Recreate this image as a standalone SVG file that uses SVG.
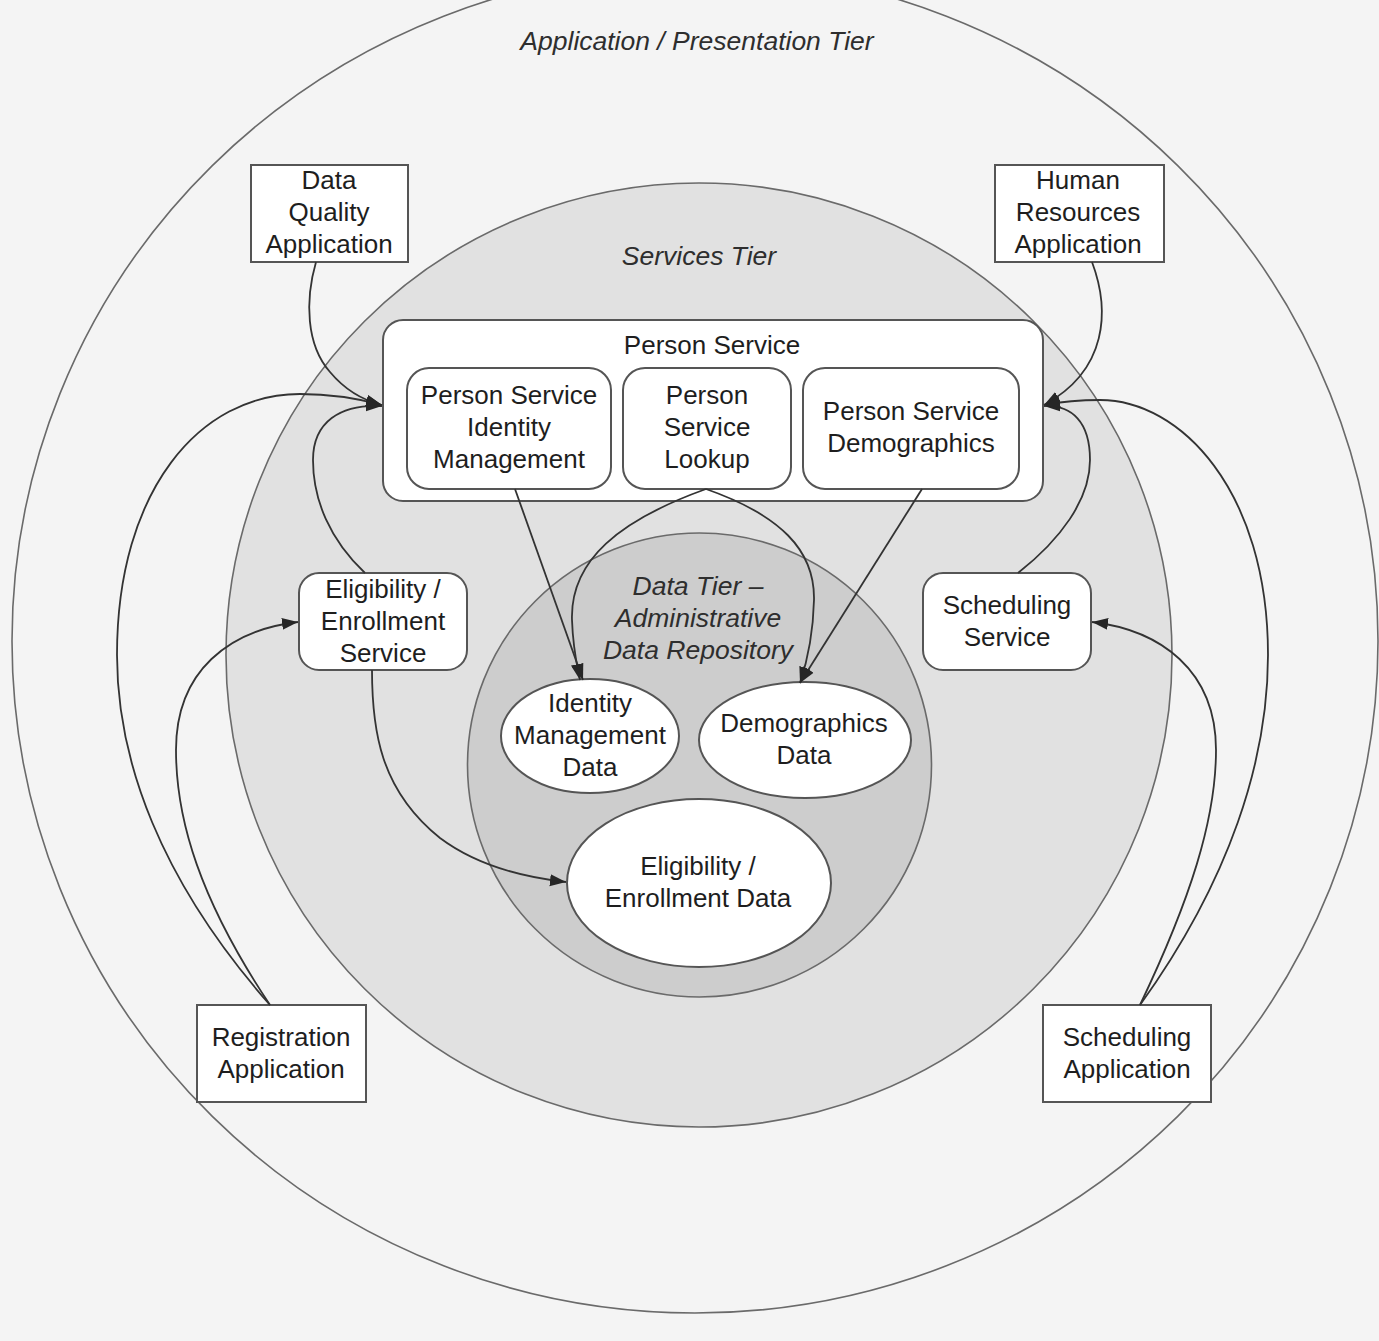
<svg xmlns="http://www.w3.org/2000/svg" width="1379" height="1341" viewBox="0 0 1379 1341">
  <defs>
    <marker id="arrow" markerUnits="userSpaceOnUse" markerWidth="17" markerHeight="14" refX="16" refY="7" orient="auto">
      <path d="M0,1 L16,7 L0,13 z" fill="#262626"/>
    </marker>
    <style>
      .tier { stroke: #6a6a6a; stroke-width: 1.6; }
      .box { fill: #ffffff; stroke: #555555; stroke-width: 2; }
      .lbl { font-family: "Liberation Sans", Arial, sans-serif; font-size: 26px; fill: #1e1e1e; text-anchor: middle; dominant-baseline: central; }
      .tierlbl { font-family: "Liberation Sans", Arial, sans-serif; font-size: 26.5px; font-style: italic; fill: #2e2e2e; text-anchor: middle; dominant-baseline: central; }
      .conn { fill: none; stroke: #333333; stroke-width: 1.8; marker-end: url(#arrow); }
    </style>
  </defs>

  <rect width="1379" height="1341" fill="#f4f4f4"/>

  <!-- tiers -->
  <g id="tier-application">
    <ellipse class="tier" cx="695" cy="641" rx="683" ry="672" fill="#f4f4f4"/>
    <text class="tierlbl" x="697" y="41">Application / Presentation Tier</text>
  </g>
  <g id="tier-services">
    <ellipse class="tier" cx="699" cy="655" rx="473" ry="472" fill="#e1e1e1"/>
    <text class="tierlbl" x="699" y="256">Services Tier</text>
  </g>
  <g id="tier-data">
    <ellipse class="tier" cx="699.5" cy="765" rx="232" ry="232" fill="#cdcdcd"/>
    <text class="tierlbl" x="698" y="586">Data Tier –</text>
    <text class="tierlbl" x="698" y="618">Administrative</text>
    <text class="tierlbl" x="698" y="650">Data Repository</text>
  </g>

  <!-- applications -->
  <g id="data-quality-application">
    <rect class="box" x="251" y="165" width="157" height="97"/>
    <text class="lbl" x="329" y="180">Data</text>
    <text class="lbl" x="329" y="212">Quality</text>
    <text class="lbl" x="329" y="244">Application</text>
  </g>
  <g id="human-resources-application">
    <rect class="box" x="995" y="165" width="169" height="97"/>
    <text class="lbl" x="1078" y="180">Human</text>
    <text class="lbl" x="1078" y="212">Resources</text>
    <text class="lbl" x="1078" y="244">Application</text>
  </g>
  <g id="registration-application">
    <rect class="box" x="197" y="1005" width="169" height="97"/>
    <text class="lbl" x="281" y="1037">Registration</text>
    <text class="lbl" x="281" y="1069">Application</text>
  </g>
  <g id="scheduling-application">
    <rect class="box" x="1043" y="1005" width="168" height="97"/>
    <text class="lbl" x="1127" y="1037">Scheduling</text>
    <text class="lbl" x="1127" y="1069">Application</text>
  </g>

  <!-- services -->
  <g id="person-service">
    <rect class="box" x="383" y="320" width="660" height="181" rx="20"/>
    <text class="lbl" x="712" y="345">Person Service</text>
  </g>
  <g id="person-service-identity-management">
    <rect class="box" x="407" y="368" width="204" height="121" rx="22"/>
    <text class="lbl" x="509" y="395">Person Service</text>
    <text class="lbl" x="509" y="427">Identity</text>
    <text class="lbl" x="509" y="459">Management</text>
  </g>
  <g id="person-service-lookup">
    <rect class="box" x="623" y="368" width="168" height="121" rx="22"/>
    <text class="lbl" x="707" y="395">Person</text>
    <text class="lbl" x="707" y="427">Service</text>
    <text class="lbl" x="707" y="459">Lookup</text>
  </g>
  <g id="person-service-demographics">
    <rect class="box" x="803" y="368" width="216" height="121" rx="22"/>
    <text class="lbl" x="911" y="411">Person Service</text>
    <text class="lbl" x="911" y="443">Demographics</text>
  </g>
  <g id="eligibility-enrollment-service">
    <rect class="box" x="299" y="573" width="168" height="97" rx="20"/>
    <text class="lbl" x="383" y="589">Eligibility /</text>
    <text class="lbl" x="383" y="621">Enrollment</text>
    <text class="lbl" x="383" y="653">Service</text>
  </g>
  <g id="scheduling-service">
    <rect class="box" x="923" y="573" width="168" height="97" rx="20"/>
    <text class="lbl" x="1007" y="605">Scheduling</text>
    <text class="lbl" x="1007" y="637">Service</text>
  </g>

  <!-- data stores -->
  <g id="identity-management-data">
    <ellipse class="box" cx="590" cy="736" rx="89" ry="57"/>
    <text class="lbl" x="590" y="703">Identity</text>
    <text class="lbl" x="590" y="735">Management</text>
    <text class="lbl" x="590" y="767">Data</text>
  </g>
  <g id="demographics-data">
    <ellipse class="box" cx="805" cy="740" rx="106" ry="58"/>
    <text class="lbl" x="804" y="723">Demographics</text>
    <text class="lbl" x="804" y="755">Data</text>
  </g>
  <g id="eligibility-enrollment-data">
    <ellipse class="box" cx="699" cy="883" rx="132" ry="84"/>
    <text class="lbl" x="698" y="866">Eligibility /</text>
    <text class="lbl" x="698" y="898">Enrollment Data</text>
  </g>

  <!-- connectors -->
  <g id="connectors">
    <path class="conn" d="M 316 262 C 305 300, 306 345, 330 372 C 345 390, 362 400, 382 405"/>
    <path class="conn" d="M 270 1005 C 160 880, 117 760, 117 655 C 117 490, 200 394, 300 394 C 335 394, 360 399, 382 405"/>
    <path class="conn" d="M 365 573 C 330 540, 313 500, 313 460 C 313 422, 340 404, 382 406"/>
    <path class="conn" d="M 270 1005 C 200 900, 176 820, 176 750 C 176 670, 230 630, 298 622"/>
    <path class="conn" d="M 372 670 C 372 730, 380 790, 440 838 C 480 868, 530 878, 566 882"/>
    <path class="conn" d="M 1092 262 C 1110 310, 1108 370, 1044 405"/>
    <path class="conn" d="M 1018 573 C 1060 540, 1090 500, 1090 460 C 1090 422, 1072 405, 1044 406"/>
    <path class="conn" d="M 1140 1005 C 1230 880, 1268 760, 1268 655 C 1268 490, 1180 400, 1100 400 C 1075 400, 1060 402, 1044 405"/>
    <path class="conn" d="M 1140 1005 C 1190 900, 1216 820, 1216 750 C 1216 670, 1160 630, 1092 622"/>
    <path class="conn" d="M 515 489 L 583 680"/>
    <path class="conn" d="M 706 489 C 620 520, 570 560, 572 620 C 573 650, 577 665, 580 680"/>
    <path class="conn" d="M 706 489 C 780 515, 815 550, 814 600 C 813 640, 806 665, 800 683"/>
    <path class="conn" d="M 922 489 L 800 683"/>
  </g>
</svg>
